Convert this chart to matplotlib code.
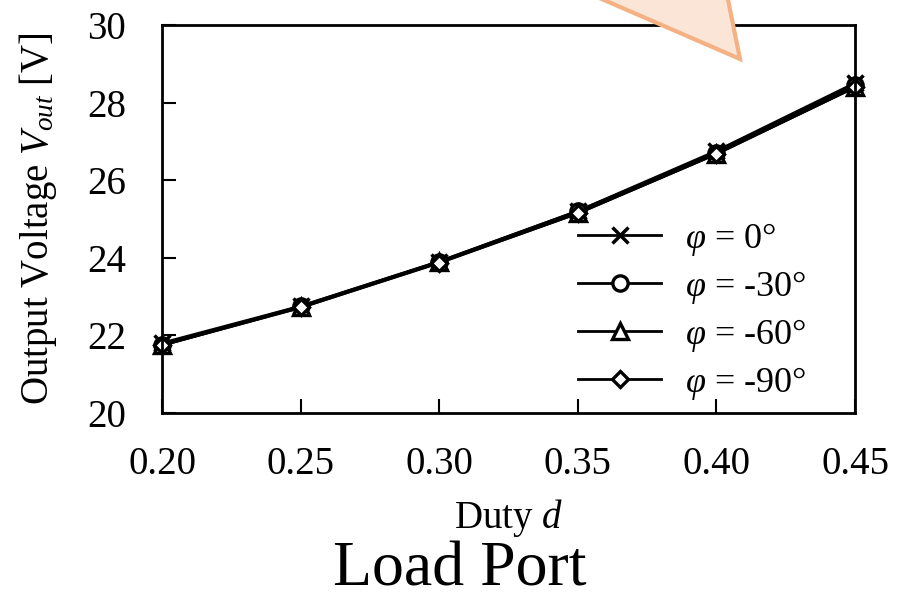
import matplotlib
matplotlib.use("Agg")
from matplotlib import pyplot as plt
from matplotlib.patches import Polygon

plt.rcParams['font.family'] = ['Liberation Serif', 'DejaVu Serif']
plt.rcParams['mathtext.fontset'] = 'custom'
plt.rcParams['mathtext.rm'] = 'Liberation Serif'
plt.rcParams['mathtext.it'] = 'Liberation Serif:italic'

# Данные
duty = [0.20, 0.25, 0.30, 0.35, 0.40, 0.45]
v_phi0 = [21.8, 22.75, 23.9, 25.2, 26.75, 28.5]
v_phi30 = [21.75, 22.75, 23.9, 25.2, 26.7, 28.45]
v_phi60 = [21.75, 22.72, 23.88, 25.15, 26.68, 28.4]
v_phi90 = [21.75, 22.72, 23.87, 25.15, 26.68, 28.4]
labels = [r'$\varphi$ = 0°', r'$\varphi$ = -30°', r'$\varphi$ = -60°', r'$\varphi$ = -90°']
xticks = [0.20, 0.25, 0.30, 0.35, 0.40, 0.45]
yticks = [20, 22, 24, 26, 28, 30]

W, H = 897, 602
fig = plt.figure(figsize=(W / 100, H / 100), dpi=100)
ax = fig.add_axes([162 / W, 1 - 413 / H, (855 - 162) / W, (413 - 25) / H])

styles = [
    dict(marker='x', markersize=11, markeredgewidth=2.5),
    dict(marker='o', markersize=11, markerfacecolor='white', markeredgewidth=2.4),
    dict(marker='^', markersize=11, markerfacecolor='white', markeredgewidth=2.4),
    dict(marker='D', markersize=8, markerfacecolor='white', markeredgewidth=2.4),
]
for vals, lab, st in zip([v_phi0, v_phi30, v_phi60, v_phi90], labels, styles):
    ax.plot(duty, vals, color='black', linewidth=2.2, label=lab, clip_on=False,
            markeredgecolor='black', **st)

ax.set_xlim(0.20, 0.45)
ax.set_ylim(20, 30)
ax.set_xticks(xticks)
ax.set_xticklabels([f'{t:.2f}' for t in xticks])
ax.set_yticks(yticks)
ax.tick_params(direction='in', length=10, width=1.5, labelsize=28)
ax.tick_params(axis='y', pad=26)
ax.tick_params(axis='x', pad=24)
for sp in ax.spines.values():
    sp.set_linewidth(2)

ax.set_xlabel('Duty $d$', fontsize=28, labelpad=10)
ax.set_ylabel('Output Voltage $V_{out}$ [V]', fontsize=28, labelpad=20)

leg = ax.legend(loc='upper left', bbox_to_anchor=(578 / W, 1 - 221 / H),
                bbox_transform=fig.transFigure, frameon=False, fontsize=26,
                handlelength=2.3, handletextpad=0.65, labelspacing=0.3,
                borderpad=0, borderaxespad=0)
for h in leg.legend_handles:
    h.set_linewidth(2)

fig.text(460 / W, 1 - 571 / H, 'Load Port', fontsize=46, ha='center', va='center')

# Выноска сверху
def fp(x, y):
    return (x / W, 1 - y / H)

tri = Polygon([fp(603 - 2.28 * 40, -40), fp(728 - 0.2 * 40, -40), fp(740, 59)],
              closed=True, transform=fig.transFigure, facecolor='#FBE5D6',
              edgecolor='#F4B183', linewidth=3, zorder=10)
fig.add_artist(tri)

fig.savefig('out.png', dpi=100)
